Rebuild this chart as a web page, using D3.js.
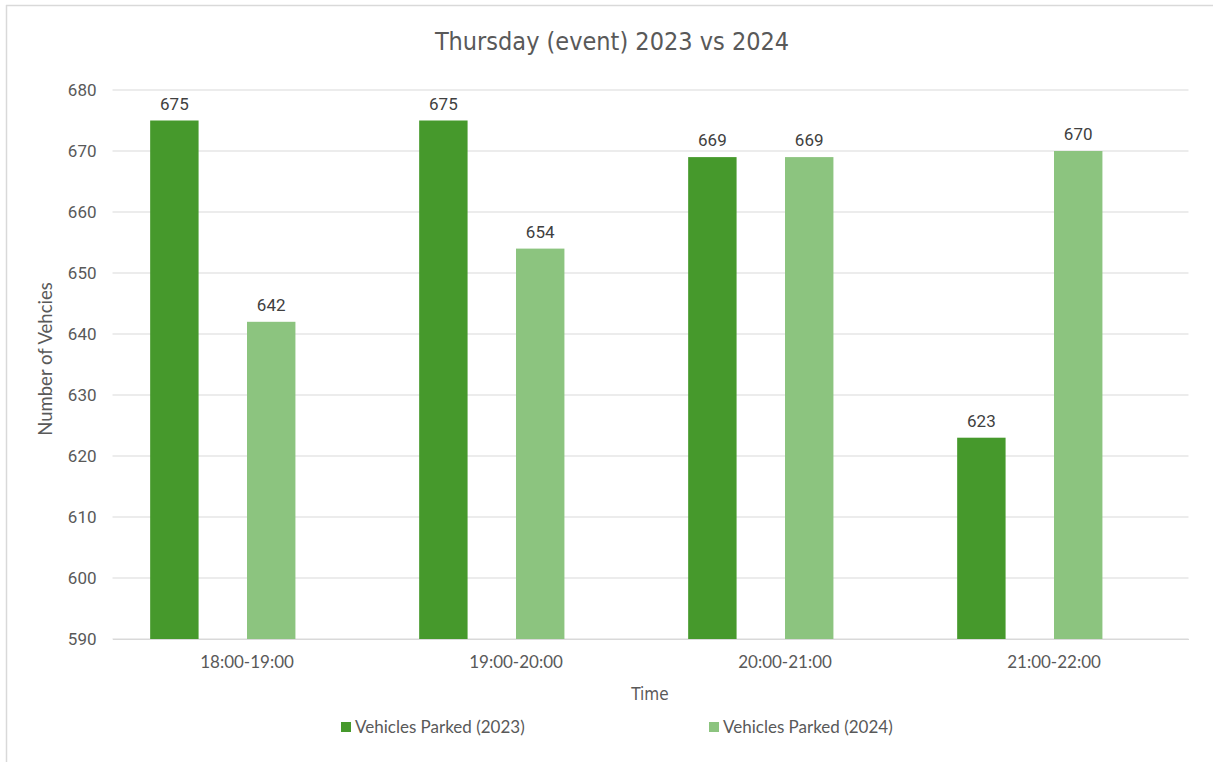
<!DOCTYPE html>
<html>
<head>
<meta charset="utf-8">
<script src="https://cdn.jsdelivr.net/npm/d3@7"></script>
<style>
  html, body { margin: 0; padding: 0; background: #fff; }
  svg { display: block; }
</style>
</head>
<body>
<svg id="chart" width="1213" height="762"></svg>
<script>
const categories = ["18:00-19:00", "19:00-20:00", "20:00-21:00", "21:00-22:00"];
const series2023 = [675, 675, 669, 623];
const series2024 = [642, 654, 669, 670];
const seriesNames = ["Vehicles Parked (2023)", "Vehicles Parked (2024)"];
const yTicks = [590, 600, 610, 620, 630, 640, 650, 660, 670, 680];
const titleText = "Thursday (event) 2023 vs 2024";
const xTitle = "Time";
const yTitle = "Number of Vehcies";

const colors = ["#46992c", "#8cc47f"];
const svg = d3.select("#chart");
const W = 1213, H = 762;
const margin = { left: 112.5, right: 24.5, top: 90, bottom: 123 };
const innerW = W - margin.left - margin.right;
const innerH = H - margin.top - margin.bottom;

// outer border (partially visible in reference)
svg.append("line").attr("x1", 6.5).attr("x2", 6.5).attr("y1", 5).attr("y2", H)
  .attr("stroke", "#d9d9d9").attr("stroke-width", 1.5);
svg.append("line").attr("x1", 6).attr("x2", W).attr("y1", 5.5).attr("y2", 5.5)
  .attr("stroke", "#d9d9d9").attr("stroke-width", 1.5);

const g = svg.append("g").attr("transform", `translate(${margin.left},${margin.top})`);

const x0 = d3.scaleBand().domain(categories).range([0, innerW]).paddingInner(0.28).paddingOuter(0.14);
// four slots per group; series occupy slots 0 and 2 (as in the reference)
const slots = ["s0", "s1", "s2", "s3"];
const x1 = d3.scaleBand().domain(slots).range([0, x0.bandwidth()]);
const y = d3.scaleLinear().domain([590, 680]).range([innerH, 0]);

// gridlines
g.append("g").selectAll("line").data(yTicks).join("line")
  .attr("x1", 0).attr("x2", innerW)
  .attr("y1", d => y(d)).attr("y2", d => y(d))
  .attr("stroke", "#d9d9d9").attr("stroke-width", 1);

// y axis labels
const yAxis = d3.axisLeft(y).tickValues(yTicks).tickSize(0).tickPadding(16);
const ya = g.append("g").call(yAxis);
ya.select(".domain").remove();
ya.selectAll("text").attr("font-family", "Roboto, 'Liberation Sans', sans-serif")
  .attr("font-size", 17).attr("fill", "#595959");

// x axis
const xAxis = d3.axisBottom(x0).tickSize(0).tickPadding(17);
const xa = g.append("g").attr("transform", `translate(0,${innerH})`).call(xAxis);
xa.select(".domain").attr("stroke", "#d9d9d9");
xa.selectAll("text").attr("font-family", "Lato, 'Noto Sans', sans-serif")
  .attr("font-size", 17).attr("fill", "#595959");

const data = categories.map((c, i) => ({
  cat: c,
  vals: [
    { key: "s0", v: series2023[i], s: 0 },
    { key: "s2", v: series2024[i], s: 1 }
  ]
}));

const groups = g.append("g").selectAll("g").data(data).join("g")
  .attr("transform", d => `translate(${x0(d.cat)},0)`);

groups.selectAll("rect").data(d => d.vals).join("rect")
  .attr("x", d => x1(d.key))
  .attr("width", x1.bandwidth())
  .attr("y", d => y(d.v))
  .attr("height", d => innerH - y(d.v))
  .attr("fill", d => colors[d.s]);

groups.selectAll("text.lbl").data(d => d.vals).join("text")
  .attr("class", "lbl")
  .attr("x", d => x1(d.key) + x1.bandwidth() / 2)
  .attr("y", d => y(d.v) - 11)
  .attr("text-anchor", "middle")
  .attr("font-family", "Roboto, 'Liberation Sans', sans-serif")
  .attr("font-size", 17).attr("fill", "#404040")
  .text(d => d.v);

// title
svg.append("text").attr("x", 612).attr("y", 50).attr("text-anchor", "middle")
  .attr("font-family", "'DejaVu Sans Condensed', 'Liberation Sans Narrow', Roboto, sans-serif")
  .attr("font-stretch", "condensed")
  .attr("font-size", 25).attr("fill", "#595959").text(titleText);

// axis titles
svg.append("text").attr("x", 650).attr("y", 700).attr("text-anchor", "middle")
  .attr("font-family", "'DejaVu Sans Condensed', Roboto, sans-serif")
  .attr("font-stretch", "condensed")
  .attr("font-size", 17).attr("fill", "#595959").text(xTitle);

svg.append("text").attr("transform", `translate(52,359) rotate(-90)`)
  .attr("text-anchor", "middle")
  .attr("font-family", "Lato, 'Liberation Sans', sans-serif")
  .attr("font-size", 18.5).attr("fill", "#595959").text(yTitle);

// legend
const legendX = [341, 709];
const leg = svg.append("g").selectAll("g").data(seriesNames).join("g")
  .attr("transform", (d, i) => `translate(${legendX[i]},733)`);
leg.append("rect").attr("x", 0).attr("y", -11).attr("width", 10).attr("height", 10)
  .attr("fill", (d, i) => colors[i]);
leg.append("text").attr("x", 14).attr("y", 0)
  .attr("font-family", "Lato, 'Noto Sans', sans-serif")
  .attr("font-size", 17).attr("fill", "#595959").text(d => d);
</script>
</body>
</html>
